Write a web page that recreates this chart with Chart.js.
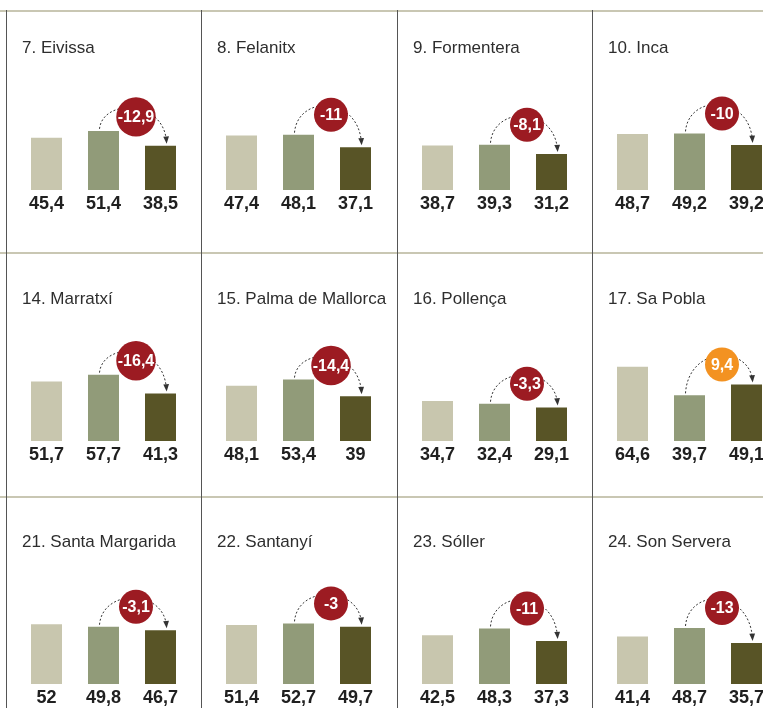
<!DOCTYPE html>
<html>
<head>
<meta charset="utf-8">
<script src="https://cdn.jsdelivr.net/npm/chart.js@4"></script>
<style>
  body { margin: 0; width: 763px; height: 708px; overflow: hidden; background: #fff; position: relative; }
  .hl { position: absolute; left: 0; width: 763px; height: 2px; background: #c9c7b3; }
  .vl { position: absolute; top: 10px; width: 1px; height: 698px; background: #555; }
  canvas.panel { position: absolute; }
</style>
</head>
<body>
<script>
// one entry per small panel, read row by row
const towns = [
  "7. Eivissa", "8. Felanitx", "9. Formentera", "10. Inca",
  "14. Marratxí", "15. Palma de Mallorca", "16. Pollença", "17. Sa Pobla",
  "21. Santa Margarida", "22. Santanyí", "23. Sóller", "24. Son Servera"
];
const firstValues  = [45.4, 47.4, 38.7, 48.7, 51.7, 48.1, 34.7, 64.6, 52, 51.4, 42.5, 41.4];
const secondValues = [51.4, 48.1, 39.3, 49.2, 57.7, 53.4, 32.4, 39.7, 49.8, 52.7, 48.3, 48.7];
const thirdValues  = [38.5, 37.1, 31.2, 39.2, 41.3, 39, 29.1, 49.1, 46.7, 49.7, 37.3, 35.7];
const changes      = [-12.9, -11, -8.1, -10, -16.4, -14.4, -3.3, 9.4, -3.1, -3, -11, -13];

const barColors = ["#c8c6ae", "#919b79", "#585426"];
const colLeft = [6, 201, 397, 592];
const rowTop = [2, 253, 496];
const lineY = [10, 252, 496];
const W = 195, H = 243, BASE = 188;

const fmt = v => String(v).replace(".", ",");
const FONT = '"Liberation Sans", Arial, sans-serif';

lineY.forEach(y => {
  const d = document.createElement("div");
  d.className = "hl"; d.style.top = y + "px";
  document.body.appendChild(d);
});
colLeft.forEach(x => {
  const d = document.createElement("div");
  d.className = "vl"; d.style.left = x + "px";
  document.body.appendChild(d);
});

const panelDecor = {
  id: "panelDecor",
  afterDatasetsDraw(chart, args, opts) {
    const ctx = chart.ctx;
    const bars = chart.getDatasetMeta(0).data;
    const vals = chart.data.datasets[0].data;
    ctx.save();

    // title
    ctx.font = "17px " + FONT;
    ctx.fillStyle = "#2e2e2e";
    ctx.textAlign = "left";
    ctx.textBaseline = "middle";
    ctx.fillText(opts.title, 16, 46);

    // values under bars
    ctx.font = "bold 18px " + FONT;
    ctx.fillStyle = "#202020";
    ctx.textAlign = "center";
    bars.forEach((b, i) => ctx.fillText(fmt(vals[i]), b.x, b.base + 14));

    // change bubble and dashed arrow
    const b2 = bars[1], b3 = bars[2];
    const label = fmt(opts.change);
    ctx.font = "bold 16px " + FONT;
    const r = Math.max(17, ctx.measureText(label).width / 2 + 1.5);
    const cx = (b2.x + b3.x) / 2 + 4;
    const cy = Math.min(b2.y, b3.y) - (r > 18.5 ? 14 : 20);
    const sx = b2.x - 4, sy = b2.y - 2;
    const ex = b3.x + 6, ey = b3.y - 4;
    const py = (cy - 9 - (sy + ey) / 8) / 0.75;

    ctx.beginPath();
    ctx.setLineDash([2, 2]);
    ctx.lineWidth = 1;
    ctx.strokeStyle = "#333";
    ctx.moveTo(sx, sy);
    ctx.bezierCurveTo(sx + 3, py, ex - 3, py, ex, ey);
    ctx.stroke();
    ctx.setLineDash([]);

    const ang = Math.atan2(ey - py, 3);
    ctx.beginPath();
    ctx.moveTo(ex + Math.cos(ang) * 2, ey + Math.sin(ang) * 2);
    ctx.lineTo(ex - Math.cos(ang - 0.5) * 6, ey - Math.sin(ang - 0.5) * 6);
    ctx.lineTo(ex - Math.cos(ang + 0.5) * 6, ey - Math.sin(ang + 0.5) * 6);
    ctx.closePath();
    ctx.fillStyle = "#333";
    ctx.fill();

    ctx.beginPath();
    ctx.arc(cx, cy, r, 0, Math.PI * 2);
    ctx.fillStyle = opts.change > 0 ? "#f39221" : "#9c1b22";
    ctx.fill();
    ctx.fillStyle = "#fff";
    ctx.textAlign = "center";
    ctx.textBaseline = "middle";
    ctx.fillText(label, cx, cy + 1);
    ctx.restore();
  }
};

towns.forEach((town, i) => {
  const canvas = document.createElement("canvas");
  canvas.className = "panel";
  canvas.width = W; canvas.height = H;
  canvas.style.left = colLeft[i % 4] + "px";
  canvas.style.top = rowTop[Math.floor(i / 4)] + "px";
  document.body.appendChild(canvas);

  new Chart(canvas.getContext("2d"), {
    type: "bar",
    data: {
      labels: ["a", "b", "c"],
      datasets: [{
        data: [firstValues[i], secondValues[i], thirdValues[i]],
        backgroundColor: barColors,
        barPercentage: 31 / 57,
        categoryPercentage: 1
      }]
    },
    plugins: [panelDecor],
    options: {
      responsive: false,
      animation: false,
      events: [],
      layout: { padding: { left: 12, right: W - 12 - 171, top: BASE - 92, bottom: H - BASE } },
      plugins: {
        legend: { display: false },
        tooltip: { enabled: false },
        panelDecor: { title: town, change: changes[i] }
      },
      scales: {
        x: { display: false },
        y: { display: false, min: 0, max: 80 }
      }
    }
  });
});
</script>
</body>
</html>
